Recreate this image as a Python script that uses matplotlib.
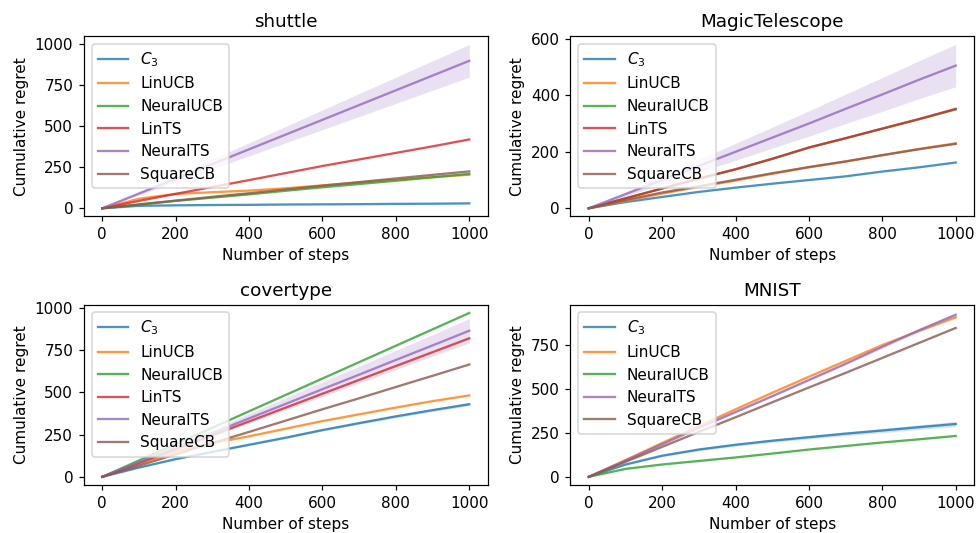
import matplotlib

matplotlib.use("Agg")
import matplotlib.pyplot as plt
import numpy as np

steps = [0, 100, 200, 300, 400, 500, 600, 700, 800, 900, 1000]

colors = {
    "C3": "tab:blue",
    "LinUCB": "tab:orange",
    "NeuralUCB": "tab:green",
    "LinTS": "tab:red",
    "NeuralTS": "tab:purple",
    "SquareCB": "tab:brown",
}
labels = {"C3": r"$C_3$"}

# mean cumulative regret per dataset / method
shuttle_mean = {
    "C3": [0, 15, 18, 20, 21, 23, 24, 25, 27, 28, 30],
    "LinUCB": [0, 58, 88, 98, 108, 122, 140, 157, 174, 190, 205],
    "NeuralUCB": [0, 22, 45, 65, 85, 107, 128, 148, 168, 189, 210],
    "LinTS": [0, 45, 88, 130, 172, 215, 258, 298, 338, 378, 420],
    "NeuralTS": [0, 90, 180, 270, 360, 450, 540, 630, 720, 810, 900],
    "SquareCB": [0, 24, 47, 70, 92, 115, 138, 160, 182, 204, 225],
}
shuttle_band = {
    "NeuralTS": [0, 10, 20, 30, 40, 50, 60, 70, 80, 90, 100],
}

magic_mean = {
    "C3": [0, 22, 40, 58, 73, 87, 100, 113, 130, 145, 162],
    "LinUCB": [0, 26, 52, 76, 98, 122, 145, 165, 188, 210, 230],
    "NeuralUCB": [0, 35, 70, 105, 138, 175, 215, 248, 282, 315, 350],
    "LinTS": [0, 35, 70, 105, 138, 175, 215, 248, 282, 316, 352],
    "NeuralTS": [0, 50, 100, 150, 200, 250, 300, 352, 403, 455, 505],
    "SquareCB": [0, 29, 56, 78, 101, 124, 146, 166, 188, 209, 228],
}
magic_band = {
    "NeuralTS": [0, 7, 15, 22, 30, 37, 45, 52, 60, 67, 75],
}

covertype_mean = {
    "C3": [0, 55, 105, 148, 190, 232, 277, 318, 358, 395, 430],
    "LinUCB": [0, 75, 150, 200, 240, 285, 330, 370, 410, 448, 482],
    "NeuralUCB": [0, 97, 194, 291, 388, 485, 582, 679, 776, 873, 970],
    "LinTS": [0, 82, 164, 246, 328, 410, 492, 574, 656, 738, 820],
    "NeuralTS": [0, 86, 173, 259, 346, 432, 519, 605, 692, 778, 865],
    "SquareCB": [0, 66, 133, 200, 266, 333, 400, 465, 532, 598, 665],
}
covertype_band = {
    "NeuralTS": [0, 7, 14, 21, 28, 36, 43, 50, 57, 64, 72],
    "C3": [0, 2, 3, 4, 5, 6, 6, 7, 8, 8, 9],
}

mnist_mean = {
    "C3": [0, 70, 120, 155, 182, 205, 225, 245, 263, 282, 300],
    "LinUCB": [0, 95, 192, 288, 383, 477, 568, 658, 748, 828, 905],
    "NeuralUCB": [0, 45, 70, 90, 110, 132, 155, 175, 195, 213, 232],
    "NeuralTS": [0, 92, 185, 278, 368, 458, 550, 642, 738, 832, 920],
    "SquareCB": [0, 85, 170, 255, 338, 423, 507, 590, 675, 760, 845],
}
mnist_band = {
    "C3": [0, 3, 5, 7, 8, 9, 10, 11, 12, 13, 14],
    "NeuralTS": [0, 2, 3, 4, 5, 6, 7, 8, 9, 9, 10],
}

panels = [
    ("shuttle", shuttle_mean, shuttle_band, [0, 250, 500, 750, 1000]),
    ("MagicTelescope", magic_mean, magic_band, [0, 200, 400, 600]),
    ("covertype", covertype_mean, covertype_band, [0, 250, 500, 750, 1000]),
    ("MNIST", mnist_mean, mnist_band, [0, 250, 500, 750]),
]

dpi = 110
fig, axes = plt.subplots(2, 2, figsize=(976 / dpi, 533 / dpi), dpi=dpi)
fig.subplots_adjust(left=0.086, right=0.998, top=0.932, bottom=0.09,
                    wspace=0.205, hspace=0.49)

x = np.array(steps)
for ax, (title, means, bands, yticks) in zip(axes.flat, panels):
    for method, values in means.items():
        y = np.array(values, dtype=float)
        ax.plot(x, y, color=colors[method], alpha=0.8, lw=1.5,
                label=labels.get(method, method))
        if method in bands:
            b = np.array(bands[method], dtype=float)
            ax.fill_between(x, y - b, y + b, color=colors[method], alpha=0.2, lw=0)
    ax.set_title(title, fontsize=12)
    ax.set_xlabel("Number of steps")
    ax.set_ylabel("Cumulative regret")
    ax.set_xticks([0, 200, 400, 600, 800, 1000])
    ax.set_yticks(yticks)
    ax.legend(loc="upper left")

fig.savefig("out.png", dpi=dpi)
